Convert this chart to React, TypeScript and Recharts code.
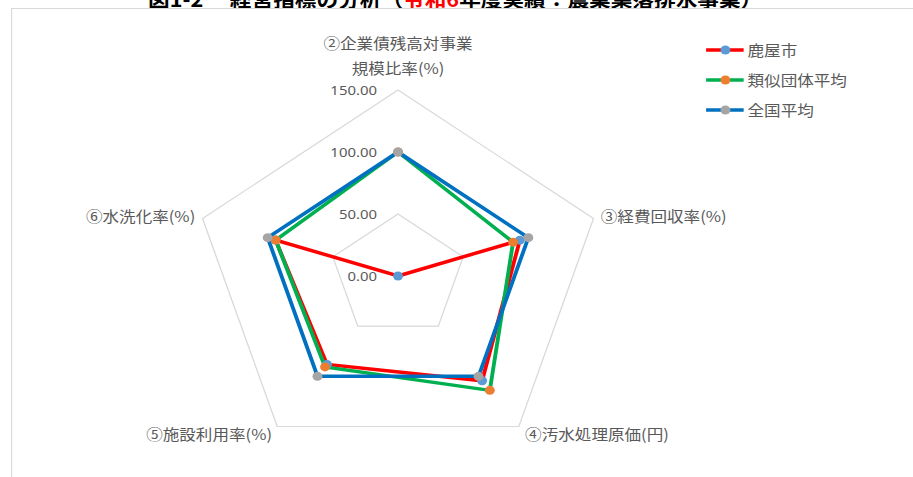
import React from 'react';
import { RadarChart, Radar, PolarGrid, PolarAngleAxis, PolarRadiusAxis, Legend } from 'recharts';

const categories = [
  '②企業債残高対事業\n規模比率(%)',
  '③経費回収率(%)',
  '④汚水処理原価(円)',
  '⑤施設利用率(%)',
  '⑥水洗化率(%)',
];
const seriesNames = ['鹿屋市', '類似団体平均', '全国平均'];
const kanoyaValues = [0, 93.5, 104.4, 88.2, 94.0];
const similarValues = [100, 88.3, 114.0, 90.6, 93.9];
const nationalValues = [100, 100, 100, 100, 100];
const radiusTicks = [0, 50, 100, 150];

const data = categories.map((c, i) => ({
  category: c,
  kanoya: kanoyaValues[i],
  similar: similarValues[i],
  national: nationalValues[i],
}));

const seriesStyles = [
  { key: 'kanoya', line: '#FF0000', marker: '#5B9BD5' },
  { key: 'similar', line: '#00B050', marker: '#ED7D31' },
  { key: 'national', line: '#0070C0', marker: '#A5A5A5' },
];

const SX = 1.105;
const BASE_W = Math.round(913 / SX);
const JP = '"Noto Sans CJK JP", "Noto Sans", sans-serif';
const TEXT = '#595959';

const labelOffsets = [
  { dx: 0, dy: -33, anchor: 'middle' },
  { dx: -1, dy: 6, anchor: 'start' },
  { dx: 1, dy: 7, anchor: 'start' },
  { dx: 0, dy: 7, anchor: 'end' },
  { dx: 1, dy: 6, anchor: 'end' },
];

const AngleTick = (props: any) => {
  const { x, y, payload, index } = props;
  const o = labelOffsets[index] || labelOffsets[0];
  const lines = String(payload.value).split('\n');
  return (
    <text x={x + o.dx} y={y + o.dy} textAnchor={o.anchor} fill={TEXT} fontSize={15} fontFamily={JP}>
      {lines.map((l, i) => (
        <tspan key={i} x={x + o.dx} dy={i === 0 ? 0 : 25}>
          {l}
        </tspan>
      ))}
    </text>
  );
};

const RadiusTick = (props: any) => {
  const { x, y, payload } = props;
  return (
    <text x={x - 19} y={y} textAnchor="end" dominantBaseline="central" fill={TEXT} fontSize={13.5} fontFamily='"Noto Sans", sans-serif'>
      {Number(payload.value).toFixed(2)}
    </text>
  );
};

const LegendContent = () => (
  <svg width={160} height={90}>
    {seriesNames.map((name, i) => {
      const s = seriesStyles[i];
      const y = 12 + i * 30;
      return (
        <g key={name}>
          <line x1={2} x2={36} y1={y} y2={y} stroke={s.line} strokeWidth={3.5} />
          <circle cx={19.5} cy={y} r={4.5} fill={s.marker} />
          <text x={39.5} y={y} dominantBaseline="central" fill={TEXT} fontSize={15} fontFamily={JP}>
            {name}
          </text>
        </g>
      );
    })}
  </svg>
);

export default function App() {
  return (
    <div style={{ position: 'absolute', left: 0, top: 0, width: 913, height: 477, background: '#fff', overflow: 'hidden' }}>
      <div
        style={{
          position: 'absolute',
          left: 0,
          top: 0,
          width: BASE_W,
          height: 477,
          transform: `scaleX(${SX})`,
          transformOrigin: '0 0',
        }}
      >
        <div
          style={{
            position: 'absolute',
            left: 134,
            top: -11,
            whiteSpace: 'pre',
            fontFamily: JP,
            fontSize: 19.6,
            lineHeight: '20px',
            fontWeight: 700,
            color: '#000',
          }}
        >
          図1-2　 経営指標の分析（<span style={{ color: '#FF0000' }}>令和6</span>年度実績：農業集落排水事業）
        </div>
        <div
          style={{
            position: 'absolute',
            left: 10,
            top: 8,
            width: BASE_W,
            height: 480,
            borderTop: '1.5px solid #D9D9D9',
            borderLeft: '1.5px solid #D9D9D9',
          }}
        />
        <div style={{ position: 'absolute', left: 0, top: 0 }}>
          <RadarChart
            width={BASE_W}
            height={477}
            data={data}
            cx={360.2}
            cy={276}
            outerRadius={186}
            margin={{ top: 0, right: 0, bottom: 0, left: 0 }}
          >
            <PolarGrid gridType="polygon" radialLines={false} stroke="#D9D9D9" strokeWidth={1.2} />
            <PolarAngleAxis dataKey="category" tick={AngleTick} tickLine={false} axisLine={false} />
            <PolarRadiusAxis
              angle={90}
              domain={[0, 150]}
              ticks={radiusTicks}
              tickCount={4}
              tick={RadiusTick}
              axisLine={false}
              tickLine={false}
            />
            {seriesStyles.map((s, i) => (
              <Radar
                key={s.key}
                name={seriesNames[i]}
                dataKey={s.key}
                stroke={s.line}
                strokeWidth={3.5}
                fill="none"
                fillOpacity={0}
                isAnimationActive={false}
                dot={{ r: 4.5, fill: s.marker, stroke: 'none', strokeWidth: 0, fillOpacity: 1 }}
              />
            ))}
            <Legend
              content={LegendContent}
              wrapperStyle={{ position: 'absolute', left: 636.5, top: 38, width: 160, height: 90 }}
            />
          </RadarChart>
        </div>
      </div>
    </div>
  );
}
